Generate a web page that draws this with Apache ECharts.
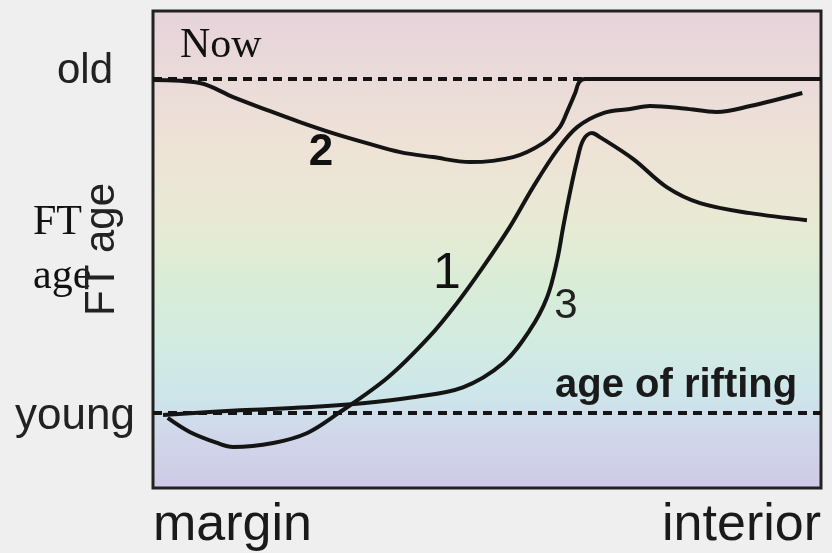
<!DOCTYPE html>
<html>
<head>
<meta charset="utf-8">
<script src="https://cdn.jsdelivr.net/npm/echarts@6/dist/echarts.min.js"></script>
<style>
  html, body { margin: 0; padding: 0; background: #efefef; }
  #main { width: 832px; height: 553px; }
</style>
</head>
<body>
<div id="main"></div>
<script>
// position across the section: 0 = margin, 100 = interior
// FT age: 0 = age of rifting (young), 10 = present (old)
var yTickValues = [0, 10];
var yTickLabels = ['young', 'old'];
var xEndLabels = ['margin', 'interior'];
var riftAge = 0;
var oldAge = 10;

var curve1 = [
  [2.2, -0.16], [5.5, -0.58], [9.6, -0.91], [12.0, -1.03], [18.0, -0.91],
  [23.1, -0.61], [27.8, -0.01], [35.2, 1.06], [41.3, 2.26], [45.5, 3.28],
  [49.4, 4.36], [53.4, 5.56], [56.9, 6.76], [60.5, 7.87], [63.5, 8.56],
  [67.4, 8.98], [71.4, 9.10], [74.4, 9.19], [79.5, 9.12], [84.4, 9.01],
  [89.4, 9.19], [97.2, 9.58]
];
var curve2 = [
  [0, 9.97], [7.0, 9.88], [12.0, 9.46], [17.1, 9.07], [22.0, 8.71],
  [26.9, 8.38], [32.0, 8.08], [37.0, 7.81], [41.9, 7.66], [47.5, 7.51],
  [53.9, 7.66], [58.4, 8.08], [60.9, 8.56], [62.1, 9.07], [63.2, 9.58],
  [63.8, 9.91], [64.7, 10.0], [66.0, 10.0], [70.0, 10.0], [80.0, 10.0],
  [90.0, 10.0], [100, 10.0]
];
var curve3 = [
  [1.5, -0.07], [13.0, 0.07], [23.1, 0.16], [31.4, 0.28], [38.9, 0.46],
  [46.4, 0.76], [52.4, 1.48], [56.4, 2.47], [59.0, 3.46], [60.5, 4.57],
  [61.4, 5.56], [62.4, 6.58], [63.5, 7.57], [64.4, 8.17], [65.7, 8.38],
  [66.9, 8.26], [71.9, 7.60], [76.9, 6.76], [81.9, 6.28], [89.4, 5.98],
  [97.9, 5.77]
];

var sans = "'Liberation Sans', Arial, sans-serif";
var serif = "'Liberation Serif', 'Times New Roman', serif";
var ink = '#141414';

function curve(name, data) {
  return {
    name: name,
    type: 'line',
    data: data,
    smooth: 0.35,
    symbol: 'none',
    lineStyle: { color: ink, width: 4 },
    z: 3
  };
}

var myChart = echarts.init(document.getElementById('main'));
var series = [curve('1', curve1), curve('2', curve2), curve('3', curve3)];
series[0].markLine = {
  silent: true,
  symbol: 'none',
  label: { show: false },
  lineStyle: { color: ink, width: 4, type: [9, 6] },
  data: [{ yAxis: riftAge }, { yAxis: oldAge }],
  z: 2
};

myChart.setOption({
  backgroundColor: '#efefef',
  animation: false,
  grid: {
    left: 153, right: 11, top: 11, bottom: 65,
    show: true,
    borderColor: '#222',
    borderWidth: 3,
    backgroundColor: {
      type: 'linear', x: 0, y: 0, x2: 0, y2: 1,
      colorStops: [
        { offset: 0, color: '#e6d3dc' },
        { offset: 0.28, color: '#eee2d6' },
        { offset: 0.45, color: '#e8ead4' },
        { offset: 0.57, color: '#d9ecd6' },
        { offset: 0.70, color: '#d2ebe2' },
        { offset: 0.80, color: '#cde6ea' },
        { offset: 0.88, color: '#d0d8ea' },
        { offset: 1, color: '#cfc9e6' }
      ]
    }
  },
  xAxis: {
    type: 'value',
    min: 0, max: 100,
    axisLine: { show: false },
    axisTick: { show: false },
    splitLine: { show: false },
    axisLabel: {
      customValues: [0, 100],
      formatter: function (v) { return v === 0 ? xEndLabels[0] : xEndLabels[1]; },
      alignMinLabel: 'left',
      alignMaxLabel: 'right',
      fontFamily: sans, fontSize: 52, color: '#1a1a1a',
      margin: 12
    }
  },
  yAxis: {
    type: 'value',
    min: -2.26, max: 12.04,
    name: 'FT age',
    nameLocation: 'middle',
    nameRotate: 90,
    nameGap: 30,
    nameMoveOverlap: false,
    nameTextStyle: { fontFamily: sans, fontSize: 42, color: '#222' },
    axisLine: { show: false },
    axisTick: { show: false },
    splitLine: { show: false },
    axisLabel: {
      customValues: yTickValues,
      formatter: function (v) {
        var i = yTickValues.indexOf(v);
        return i === 1 ? '{o|' + yTickLabels[i] + '}' : '{y|' + yTickLabels[i] + '}';
      },
      margin: 18,
      rich: {
        o: { fontFamily: sans, fontSize: 42, color: '#222', padding: [0, 22, 16, 0] },
        y: { fontFamily: sans, fontSize: 44, color: '#222', padding: [8, 0, 0, 0] }
      }
    }
  },
  graphic: [
    { type: 'text', left: 180, top: 25, style: { text: 'Now', font: '42px ' + serif, fill: '#111' } },
    { type: 'text', left: 33, top: 196, style: { text: 'FT\nage', font: '42px ' + serif, fill: '#111', lineHeight: 54 } },
    { type: 'text', x: 321, y: 153, style: { text: '2', font: 'bold 44px ' + sans, fill: '#111', align: 'center', verticalAlign: 'middle' } },
    { type: 'text', x: 447, y: 274, style: { text: '1', font: '50px ' + sans, fill: '#111', align: 'center', verticalAlign: 'middle' } },
    { type: 'text', x: 566, y: 306, style: { text: '3', font: '42px ' + sans, fill: '#222', align: 'center', verticalAlign: 'middle' } },
    { type: 'text', x: 555, y: 366, style: { text: 'age of rifting', font: 'bold 40px ' + sans, fill: '#1a1a1a', align: 'left', verticalAlign: 'top' } }
  ],
  series: series
});
</script>
</body>
</html>
